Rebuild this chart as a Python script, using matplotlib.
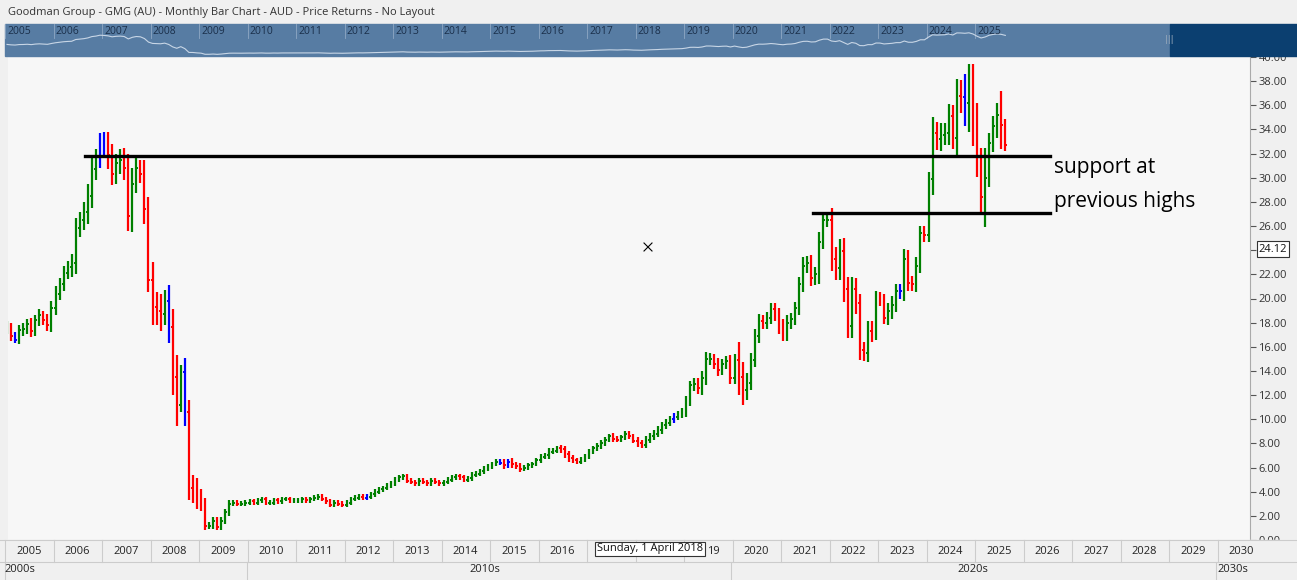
import matplotlib
matplotlib.use("Agg")
import matplotlib.pyplot as plt
from matplotlib.patches import Rectangle

# ---------------- data ----------------
start_year = 2005
closes = [
    17.6,16.9,16.6,17.4,17.5,17.9,17.3,18.2,18.6,18.2,17.8,19.2,   # 2005
    20.4,21.2,22.1,22.6,22.9,25.8,26.5,27.2,28.5,30.7,31.5,33.0,   # 2006
    32.6,31.9,30.3,31.2,31.5,30.8,26.8,29.5,30.8,30.3,27.4,21.5,   # 2007
    19.3,19.0,18.7,19.8,17.6,13.5,11.2,13.9,10.6,4.3,4.2,3.5,      # 2008
    3.1,1.2,1.2,1.6,1.1,1.6,2.3,3.0,3.1,3.0,3.0,3.1,               # 2009
    3.2,3.1,3.3,3.4,3.1,3.1,3.3,3.2,3.4,3.4,3.3,3.3,               # 2010
    3.3,3.4,3.3,3.4,3.5,3.6,3.4,3.2,2.9,3.1,3.0,2.9,               # 2011
    3.1,3.4,3.5,3.6,3.5,3.6,3.8,4.0,4.2,4.3,4.5,4.7,               # 2012
    5.0,5.2,5.3,4.9,4.8,4.7,4.9,4.8,4.7,4.9,4.8,4.7,               # 2013
    4.8,5.0,5.2,5.3,5.2,5.0,5.1,5.4,5.5,5.7,5.9,6.1,               # 2014
    6.3,6.5,6.4,6.2,6.5,6.3,6.1,5.9,6.0,6.2,6.3,6.6,               # 2015
    6.9,7.0,7.3,7.4,7.6,7.5,7.1,6.8,6.6,6.5,6.7,6.9,               # 2016
    7.3,7.6,7.8,8.0,8.3,8.6,8.4,8.3,8.5,8.8,8.6,8.2,               # 2017
    8.0,7.9,8.3,8.6,8.8,9.1,9.5,9.7,10.0,10.2,10.4,10.6,           # 2018
    11.5,12.8,12.9,12.6,13.4,15.0,15.0,14.6,14.1,14.6,14.8,13.4,   # 2019
    14.9,13.5,12.4,13.0,14.9,16.9,18.1,18.0,18.4,19.1,18.6,17.7,   # 2020
    17.1,18.0,18.3,19.2,21.2,22.7,22.9,21.7,22.0,24.7,26.5,26.5,   # 2021
    23.3,22.5,23.9,20.8,17.7,20.8,19.6,15.7,15.5,17.3,17.2,20.0,   # 2022
    19.9,18.4,19.0,19.5,20.6,20.6,23.3,21.3,21.2,22.7,25.4,25.3,   # 2023
    29.9,33.7,33.2,33.5,33.7,35.1,33.3,36.8,36.7,36.2,37.0,35.0,   # 2024
    31.3,28.4,30.0,32.9,34.3,35.2,34.4,32.7,                       # 2025
]
wicks = [
    0.5,0.4,0.3,0.4,0.5,0.4,0.5,0.4,0.5,0.4,0.5,0.6,
    0.6,0.5,0.6,0.5,0.8,0.9,0.7,0.8,1.0,1.0,0.9,0.7,
    0.8,1.2,0.9,0.8,0.9,1.0,1.2,1.3,0.8,0.7,1.2,1.0,
    1.5,1.2,1.4,0.9,1.3,1.5,1.8,0.6,1.2,1.0,1.1,0.9,
    0.7,0.4,0.3,0.3,0.3,0.3,0.3,0.3,0.2,0.2,0.2,0.2,
    0.2,0.2,0.2,0.2,0.2,0.2,0.2,0.2,0.2,0.2,0.2,0.2,
    0.2,0.2,0.2,0.2,0.2,0.2,0.2,0.2,0.2,0.2,0.2,0.2,
    0.2,0.2,0.2,0.2,0.2,0.2,0.2,0.2,0.2,0.2,0.2,0.2,
    0.2,0.2,0.2,0.2,0.2,0.2,0.2,0.2,0.2,0.2,0.2,0.2,
    0.2,0.2,0.2,0.2,0.2,0.2,0.2,0.2,0.2,0.2,0.2,0.2,
    0.2,0.2,0.2,0.3,0.2,0.3,0.2,0.3,0.2,0.2,0.2,0.2,
    0.2,0.2,0.3,0.2,0.2,0.3,0.3,0.3,0.2,0.2,0.2,0.2,
    0.2,0.2,0.2,0.3,0.2,0.2,0.3,0.2,0.2,0.2,0.2,0.2,
    0.3,0.3,0.3,0.3,0.3,0.3,0.3,0.3,0.3,0.3,0.3,0.3,
    0.4,0.4,0.5,0.5,0.6,0.6,0.5,0.4,0.5,0.4,0.4,0.5,
    0.5,1.5,1.2,0.8,0.6,0.6,0.6,0.5,0.5,0.5,0.5,0.6,
    0.6,0.6,0.5,0.5,0.6,0.7,0.6,0.7,0.6,0.8,0.6,0.6,
    1.0,1.0,1.0,1.1,1.0,1.0,0.9,0.8,0.7,0.8,0.8,0.6,
    0.5,0.5,0.6,0.7,0.6,0.6,0.8,0.7,0.6,0.7,0.6,0.6,
    0.6,1.3,0.9,1.0,0.8,1.0,0.9,1.4,1.3,1.9,2.4,2.4,
    1.2,1.2,2.5,0.8,0.8,1.0,2.0,0.5,
]
blue_months = [(2005, 3), (2006, 12), (2007, 1), (2008, 5), (2008, 9), (2012, 6),
               (2015, 3), (2015, 5), (2018, 10), (2023, 6), (2024, 10)]
tick_values = [0, 2, 4, 6, 8, 10, 12, 14, 16, 18, 20, 22, 24, 26, 28, 30, 32, 34, 36, 38, 40]
years = list(range(2005, 2031))
decades = ["2000s", "2010s", "2020s", "2030s"]
support_levels = [31.8, 27.1]
title = "Goodman Group - GMG (AU) - Monthly Bar Chart - AUD - Price Returns - No Layout"

# ---------------- figure ----------------
W, H = 1297, 580
fig = plt.figure(figsize=(W / 100, H / 100), dpi=100, facecolor="#f0f0f0")

def px_axes(x0, y0, x1, y1):
    return [x0 / W, 1 - y1 / H, (x1 - x0) / W, (y1 - y0) / H]

ax = fig.add_axes(px_axes(8, 57, 1250, 540))
ax.set_facecolor("#f7f7f7")
X0 = 2005 + (8 - 5) / 48.5
X1 = 2005 + (1250 - 5) / 48.5
ax.set_xlim(X0, X1)
ax.set_ylim(2 - 23 / 12.2, 2 + 460 / 12.2)

prev = closes[0]
for i, c in enumerate(closes):
    o = prev
    yr, mo = start_year + i // 12, i % 12 + 1
    x = start_year + (i + 0.5) / 12
    if (yr, mo) in blue_months:
        col = "#0000ff"
    elif c >= o:
        col = "#008000"
    else:
        col = "#ff0000"
    hi = max(o, c) + wicks[i]
    lo = max(0.8, min(o, c) - wicks[i])
    ax.plot([x, x], [lo, hi], color=col, lw=1.6, solid_capstyle="butt")
    ax.plot([x - 0.03, x], [o, o], color=col, lw=1.4, solid_capstyle="butt")
    ax.plot([x, x + 0.03], [c, c], color=col, lw=1.4, solid_capstyle="butt")
    prev = c

xs1 = 2005 + (85 - 5) / 48.5
xs2 = 2005 + (813 - 5) / 48.5
xe = 2005 + (1050 - 5) / 48.5
ax.plot([xs1, xe], [support_levels[0]] * 2, color="black", lw=2.4)
ax.plot([xs2, xe], [support_levels[1]] * 2, color="black", lw=2.4)

ax.yaxis.tick_right()
ax.set_yticks(tick_values)
ax.set_yticklabels(["" if v == 24 else f"{v:.2f}" for v in tick_values],
                   fontsize=8, color="#333333", family="Open Sans")
ax.tick_params(axis="y", length=4, width=0.8, color="#555555", pad=2)
ax.set_xticks([])
for s in ["top", "left", "bottom"]:
    ax.spines[s].set_visible(False)
ax.spines["right"].set_color("#aaaaaa")

# ---------------- overlay ----------------
ov = fig.add_axes([0, 0, 1, 1], zorder=5)
ov.set_xlim(0, W)
ov.set_ylim(H, 0)
ov.axis("off")
ov.patch.set_alpha(0)

ov.text(8, 12, title, fontsize=8, color="#333333", va="center", family="Open Sans")
ov.add_patch(Rectangle((5, 24), 1165, 32, color="#577ca3"))
ov.add_patch(Rectangle((1170, 24), 127, 32, color="#0b3f70"))
for y in years[:21]:
    xp = 5 + (y - 2005) * 48.5
    ov.text(xp + 2, 31, str(y), fontsize=7.5, color="#1a2f4a", va="center", family="Open Sans")
    ov.plot([xp, xp], [24, 38], color="#8fa8c4", lw=0.6)
nav_x = [5 + (i + 0.5) / 12 * 48.5 for i in range(len(closes))]
nav_y = [55 - c * 0.6 for c in closes]
ov.plot(nav_x, nav_y, color="#c8d6e6", lw=0.8)
ov.text(1165, 40, "|||", fontsize=6, color="#9ab", va="center")

# bottom year strip
ov.add_patch(Rectangle((0, 540), W, 40, color="#f0f0f0"))
ov.plot([0, W], [540, 540], color="#cccccc", lw=0.8)
ov.plot([0, W], [562, 562], color="#cccccc", lw=0.8)
for y in years:
    xp = 5 + (y - 2005) * 48.5
    ov.plot([xp, xp], [540, 562], color="#cccccc", lw=0.8)
    if y in (2017, 2018, 2019):
        continue
    ov.text(xp + 24, 551, str(y), fontsize=8, color="#222222", ha="center", va="center", family="Open Sans")
ov.text(713, 551, "19", fontsize=8, color="#222222", ha="center", va="center", family="Open Sans")
dec_x = [5, 247, 731, 1216]
dec_labels_x = [20, 485, 973, 1233]
for d, xp, xl in zip(decades, dec_x, dec_labels_x):
    ov.plot([xp, xp], [562, 580], color="#cccccc", lw=0.8)
    ov.text(xl, 570, d, fontsize=8, color="#222222", ha="center", va="center", family="Open Sans")

ov.text(650, 549, "Sunday, 1 April 2018", fontsize=8, color="#111111", ha="center", va="center",
        family="Open Sans", bbox=dict(boxstyle="square,pad=0.15", fc="white", ec="#333333", lw=0.8))
ov.text(1273, 249, "24.12", fontsize=8, color="#111111", ha="center", va="center",
        family="Open Sans", bbox=dict(boxstyle="square,pad=0.2", fc="white", ec="#333333", lw=0.8))
ov.plot([644, 652], [243, 251], color="black", lw=0.8)
ov.plot([644, 652], [251, 243], color="black", lw=0.8)

ov.text(1054, 167, "support at", fontsize=15, color="black", va="center", family="Open Sans")
ov.text(1054, 201, "previous highs", fontsize=15, color="black", va="center", family="Open Sans")

fig.savefig("out.png", dpi=100, facecolor=fig.get_facecolor())
